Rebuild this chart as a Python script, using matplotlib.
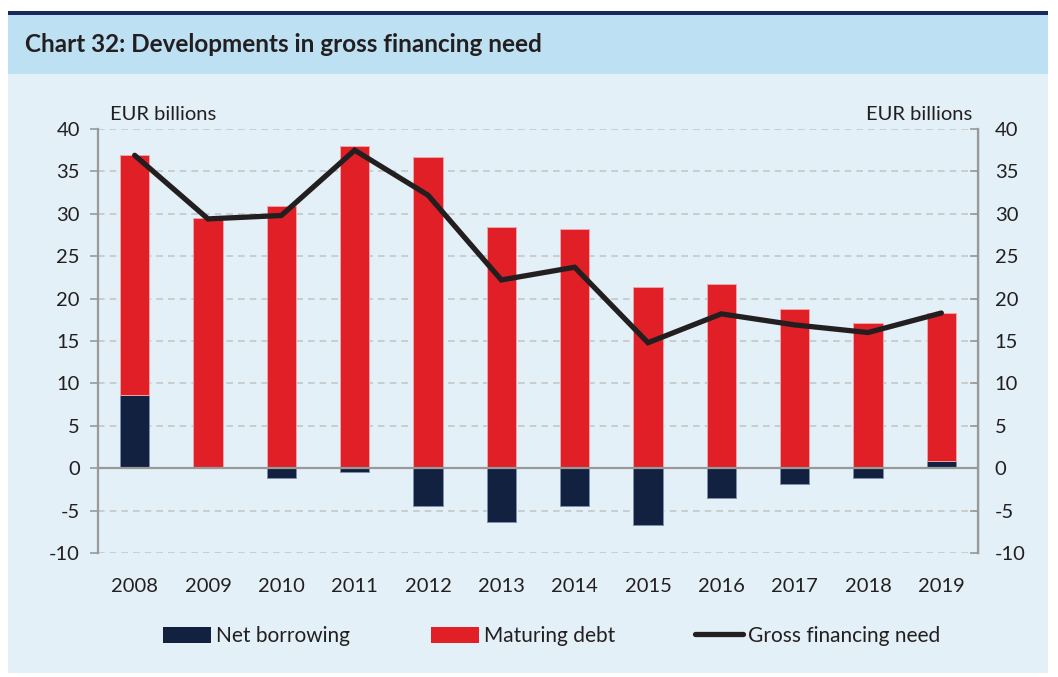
import matplotlib
matplotlib.use("Agg")
import matplotlib.pyplot as plt
import numpy as np
from matplotlib.patches import Rectangle
from matplotlib.lines import Line2D

years = ["2008", "2009", "2010", "2011", "2012", "2013", "2014", "2015",
         "2016", "2017", "2018", "2019"]
net_borrowing = [8.6, 0.0, -1.1, -0.5, -4.5, -6.3, -4.5, -6.7, -3.5, -1.9, -1.2, 0.8]
maturing_debt = [28.3, 29.5, 30.9, 38.0, 36.7, 28.5, 28.2, 21.4, 21.7, 18.8, 17.1, 17.5]
gross_financing_need = [36.9, 29.4, 29.8, 37.5, 32.2, 22.2, 23.7, 14.8, 18.2, 16.9, 16.0, 18.3]
yticks = [-10, -5, 0, 5, 10, 15, 20, 25, 30, 35, 40]

NAVY = "#12213f"
RED = "#e01f27"
LINE = "#231f20"
BG = "#e3f0f7"
BAND = "#bde0f2"
TXT = "#231f20"
FONT = ["Lato", "DejaVu Sans"]
plt.rcParams["font.family"] = FONT

W, H = 1058, 677
fig = plt.figure(figsize=(W / 100, H / 100), dpi=100)
fig.patch.set_facecolor("white")

def fx(x): return x / W
def fy(y): return 1 - y / H

# background panels
fig.add_artist(Rectangle((fx(8), fy(673)), fx(1048) - fx(8), fy(74) - fy(673),
                         transform=fig.transFigure, facecolor=BG, edgecolor="none", zorder=0))
fig.add_artist(Rectangle((fx(8), fy(74)), fx(1048) - fx(8), fy(14) - fy(74),
                         transform=fig.transFigure, facecolor=BAND, edgecolor="none", zorder=0))
fig.add_artist(Rectangle((fx(8), fy(14.5)), fx(1048) - fx(8), fy(11.5) - fy(14.5),
                         transform=fig.transFigure, facecolor="#1b2a5c", edgecolor="none", zorder=0))
fig.text(fx(25), fy(45), "Chart 32: Developments in gross financing need",
         fontsize=17.5, fontweight="bold", color=TXT, va="center", ha="left")

ax = fig.add_axes([fx(98), fy(553), fx(978) - fx(98), fy(129) - fy(553)])
ax.set_facecolor("none")
x = np.arange(len(years))
w = 0.4
red_bottom = [max(v, 0) for v in net_borrowing]
ax.bar(x, net_borrowing, width=w, color=NAVY, edgecolor="#7f8fae", linewidth=0.7, zorder=3)
ax.bar(x, maturing_debt, bottom=red_bottom, width=w, color=RED, edgecolor="#f0a3a8",
       linewidth=0.7, zorder=3)
ax.plot(x, gross_financing_need, color=LINE, lw=3.8, solid_capstyle="round",
        solid_joinstyle="miter", zorder=4)
ax.axhline(0, color="#999999", lw=1.6, zorder=3.5)

ax.set_xlim(-0.5, len(years) - 0.5)
ax.set_ylim(-10, 40)
ax.set_yticks(yticks)
ax.set_yticklabels([str(t) for t in yticks])
ax.set_xticks(x)
ax.set_xticklabels(years)
for t in yticks:
    if t != 0:
        ax.axhline(t, color="#c6c6c6", lw=1.2, ls=(0, (4, 3)), zorder=1)
for s in ["top", "bottom"]:
    ax.spines[s].set_visible(False)
ax.spines["left"].set_color("#999999")
ax.spines["left"].set_linewidth(1.6)
ax.tick_params(axis="y", length=6, width=1.2, color="#999999", labelsize=14.5,
               labelcolor=TXT, pad=7)
ax.tick_params(axis="x", length=0, labelsize=14.5, labelcolor=TXT, pad=18)

ax2 = ax.twinx()
ax2.set_ylim(-10, 40)
ax2.set_yticks(yticks)
ax2.set_yticklabels([str(t) for t in yticks])
for s in ["top", "bottom", "left"]:
    ax2.spines[s].set_visible(False)
ax2.spines["right"].set_color("#999999")
ax2.spines["right"].set_linewidth(1.6)
ax2.tick_params(axis="y", direction="in", length=6, width=1.2, color="#999999",
                labelsize=14.5, labelcolor=TXT, pad=12)

fig.text(fx(110), fy(115), "EUR billions", fontsize=14.5, color=TXT, va="center", ha="left")
fig.text(fx(972), fy(115), "EUR billions", fontsize=14.5, color=TXT, va="center", ha="right")

handles = [Rectangle((0, 0), 1, 1, facecolor=NAVY, edgecolor="none"),
           Rectangle((0, 0), 1, 1, facecolor=RED, edgecolor="none"),
           Line2D([0], [0], color=LINE, lw=3.8, solid_capstyle="round")]
labels = ["Net borrowing", "Maturing debt", "Gross financing need"]
fig.legend(handles, labels, loc="center", bbox_to_anchor=(fx(552), fy(636)), ncol=3,
           frameon=False, fontsize=15, handlelength=2.3, handleheight=0.8,
           handletextpad=0.25, columnspacing=3.85, labelcolor=TXT)

fig.savefig("out.png", dpi=100, facecolor=fig.get_facecolor())
